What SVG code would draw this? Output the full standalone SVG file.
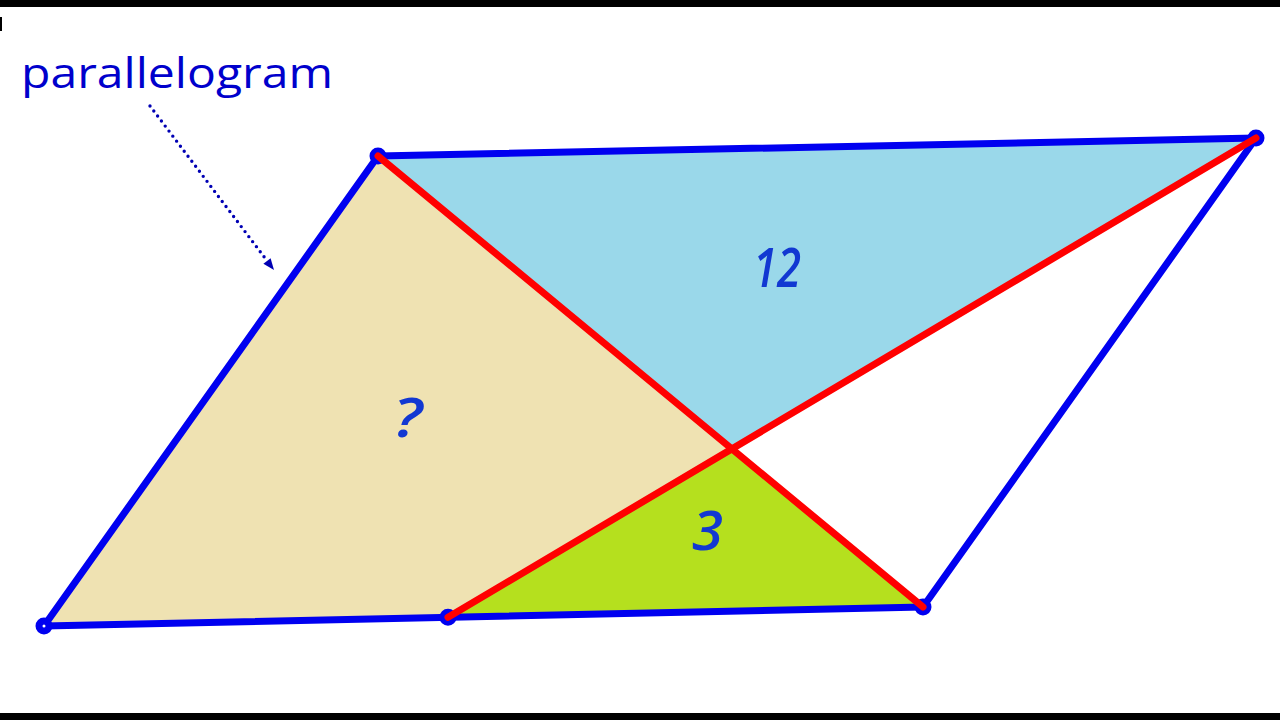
<svg xmlns="http://www.w3.org/2000/svg" width="1280" height="720" viewBox="0 0 1280 720">
  <style>
    .edge { fill: none; stroke: #0000f0; stroke-width: 7; stroke-linejoin: round; }
    .diag { stroke: #ff0000; stroke-width: 7; stroke-linecap: round; }
    .vtx { fill: #ffffff; stroke: #0000f0; stroke-width: 7; }
    .num { font-family: "Open Sans", "Liberation Sans", Arial, sans-serif; font-style: italic; font-weight: 600; font-size: 54px; fill: #1238d2; }
    .title { font-family: "Open Sans", "Liberation Sans", sans-serif; font-size: 42px; fill: #0000cc; }
  </style>
  <rect x="0" y="0" width="1280" height="720" fill="#ffffff"/>
  <rect x="0" y="0" width="1280" height="7" fill="#000000"/>
  <rect x="0" y="713" width="1280" height="7" fill="#000000"/>
  <rect x="0" y="17" width="2" height="14" fill="#000000"/>

  <g id="regions">
    <polygon id="region-q" points="378,156 44,626 448,617.3 731.9,448.9" fill="#efe2b2"/>
    <polygon id="region-12" points="378,156 1256,138 731.9,448.9" fill="#9ad8ea"/>
    <polygon id="region-3" points="731.9,448.9 448,617.3 923,607" fill="#b5e01e"/>
  </g>

  <g id="parallelogram">
    <polygon class="edge" points="378,156 1256,138 923,607 44,626"/>
  </g>

  <g id="vertices">
    <circle class="vtx" cx="378" cy="156" r="5"/>
    <circle class="vtx" cx="1256" cy="138" r="5"/>
    <circle class="vtx" cx="923" cy="607" r="5"/>
    <circle class="vtx" cx="44" cy="626" r="5"/>
    <circle class="vtx" cx="448" cy="617.3" r="5"/>
  </g>

  <g id="connectors">
    <line class="diag" x1="378" y1="156" x2="923" y2="607"/>
    <line class="diag" x1="448" y1="617.3" x2="1256" y2="138"/>
    <line x1="150" y1="106" x2="265" y2="258" stroke="#0000b4" stroke-width="3.4" stroke-linecap="round" stroke-dasharray="0 6.3"/>
    <polygon points="274,270 263.4,263.8 270.6,258.2" fill="#0000b4"/>
  </g>

  <g id="labels">
    <text class="title" x="21" y="88" textLength="312" lengthAdjust="spacingAndGlyphs">parallelogram</text>
    <text class="num" x="753" y="287" textLength="48" lengthAdjust="spacingAndGlyphs">12</text>
    <text class="num" x="393" y="437" textLength="29" lengthAdjust="spacingAndGlyphs">?</text>
    <text class="num" x="692" y="550" textLength="31" lengthAdjust="spacingAndGlyphs">3</text>
  </g>
</svg>
